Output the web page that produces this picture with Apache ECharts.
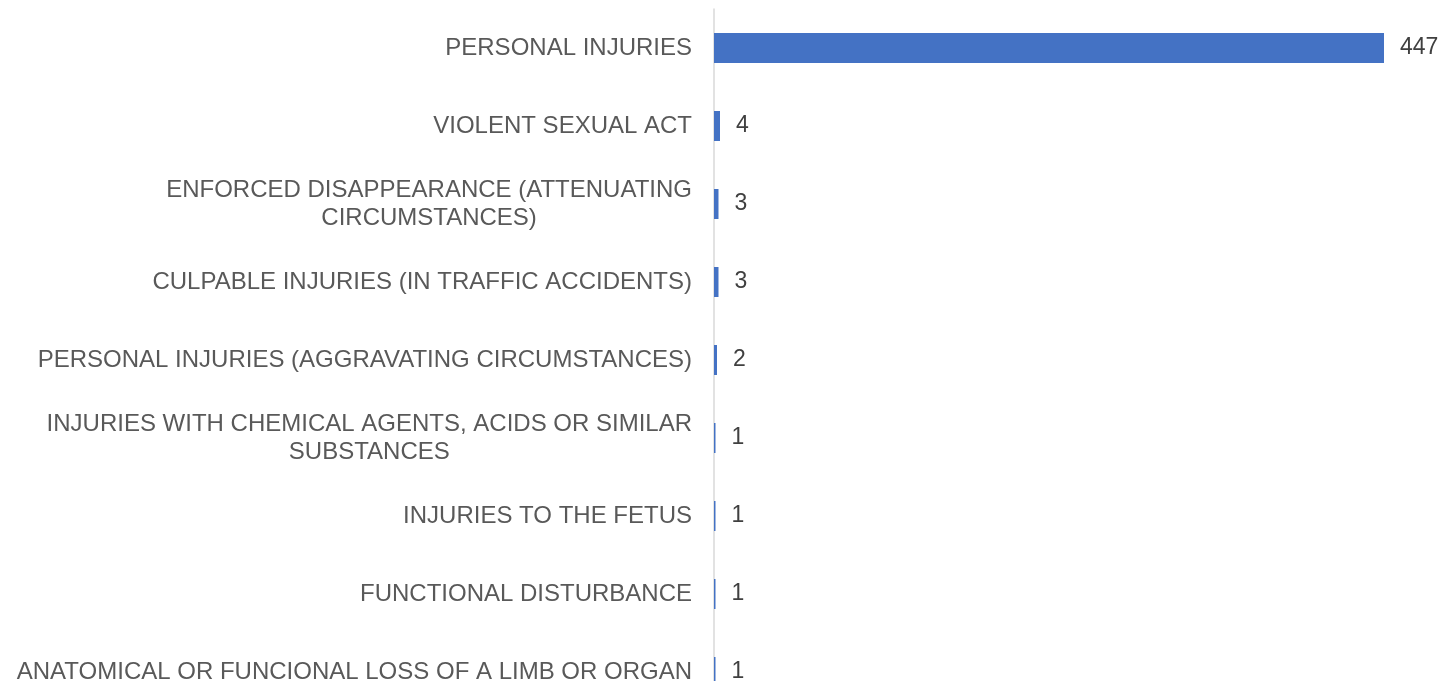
<!DOCTYPE html>
<html>
<head>
<meta charset="utf-8">
<script src="https://cdn.jsdelivr.net/npm/echarts@6/dist/echarts.min.js"></script>
<style>
  html, body { margin: 0; padding: 0; background: #fff; }
  #chart { width: 1456px; height: 681px; }
</style>
</head>
<body>
<div id="chart"></div>
<script>
// categories, top to bottom
var categories = [
    'PERSONAL INJURIES',
    'VIOLENT SEXUAL ACT',
    'ENFORCED DISAPPEARANCE (ATTENUATING\nCIRCUMSTANCES)',
    'CULPABLE INJURIES (IN TRAFFIC ACCIDENTS)',
    'PERSONAL INJURIES (AGGRAVATING CIRCUMSTANCES)',
    'INJURIES WITH CHEMICAL AGENTS, ACIDS OR SIMILAR\nSUBSTANCES',
    'INJURIES TO THE FETUS',
    'FUNCTIONAL DISTURBANCE',
    'ANATOMICAL OR FUNCIONAL LOSS OF A LIMB OR ORGAN'
];
var counts = [447, 4, 3, 3, 2, 1, 1, 1, 1];

var myChart = echarts.init(document.getElementById('chart'));
myChart.setOption({
    animation: false,
    grid: {
        left: 714,
        right: 72,
        top: 9,
        height: 702,   // last row is cut off at the bottom edge
        outerBoundsMode: 'none'
    },
    xAxis: {
        type: 'value',
        min: 0,
        max: 447,
        show: false
    },
    yAxis: {
        type: 'category',
        inverse: true,
        data: categories,
        axisLine: { show: true, lineStyle: { color: '#d9d9d9', width: 1.5 } },
        axisTick: { show: false },
        axisLabel: {
            margin: 22,
            fontFamily: 'Liberation Sans, Arial, sans-serif',
            fontSize: 24,
            color: '#595959',
            lineHeight: 28,
            formatter: function (v) {
                // center each line of wrapped labels
                return v.split('\n').map(function (s) { return '{c|' + s + '}'; }).join('\n');
            },
            rich: {
                c: {
                    align: 'center',
                    fontFamily: 'Liberation Sans, Arial, sans-serif',
                    fontSize: 24,
                    color: '#595959',
                    lineHeight: 28
                }
            }
        }
    },
    series: [
        {
            type: 'bar',
            data: counts,
            barWidth: 30,
            itemStyle: { color: '#4472C4' },
            label: {
                show: true,
                position: 'right',
                distance: 16,
                fontFamily: 'Liberation Sans, Arial, sans-serif',
                fontSize: 23,
                color: '#404040'
            }
        }
    ]
});
</script>
</body>
</html>
